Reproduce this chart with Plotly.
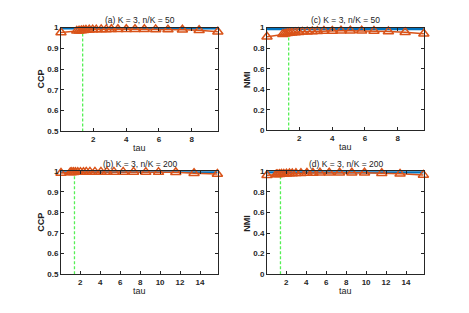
import plotly.graph_objects as go

# ---- data ----
tau_50 = [0.03, 0.99, 1.13, 1.27, 1.40, 1.55, 1.75, 1.96, 2.18, 2.48, 2.79,
          3.10, 3.50, 4.01, 4.54, 5.11, 5.80, 6.55, 7.43, 8.45, 9.59]
tau_200 = [0.07, 1.00, 1.15, 1.33, 1.52, 1.75, 2.02, 2.32, 2.60, 2.97, 3.47,
           4.07, 4.67, 5.37, 6.30, 7.34, 8.57, 9.84, 11.57, 13.40, 15.74]

ccp_50_blue = [0.997] * 21
ccp_50_orange = [0.976, 0.984, 0.985, 0.986, 0.987, 0.988, 0.989, 0.990, 0.990, 0.991, 0.991,
                 0.992, 0.992, 0.992, 0.992, 0.992, 0.991, 0.990, 0.989, 0.987, 0.980]
nmi_50_blue = [0.985] * 21
nmi_50_orange = [0.91, 0.935, 0.940, 0.944, 0.947, 0.950, 0.953, 0.955, 0.958, 0.960, 0.962,
                 0.964, 0.966, 0.967, 0.968, 0.968, 0.968, 0.966, 0.962, 0.955, 0.940]
ccp_200_blue = [0.998] * 21
ccp_200_orange = [0.992, 0.994, 0.995, 0.995, 0.996, 0.996, 0.996, 0.996, 0.997, 0.997, 0.997,
                  0.997, 0.997, 0.997, 0.997, 0.997, 0.996, 0.996, 0.995, 0.991, 0.987]
nmi_200_blue = [0.99] * 21
nmi_200_orange = [0.962, 0.968, 0.970, 0.972, 0.974, 0.975, 0.976, 0.978, 0.979, 0.980, 0.982,
                  0.983, 0.984, 0.985, 0.986, 0.986, 0.986, 0.985, 0.982, 0.975, 0.965]

tau_star_50 = 1.35
tau_star_200 = 1.42

titles = ["(a) K = 3, n/K = 50", "(c) K = 3, n/K = 50",
          "(b) K = 3, n/K = 200", "(d) K = 3, n/K = 200"]
ylabels = ["CCP", "NMI", "CCP", "NMI"]
x_ticks_50 = [2, 4, 6, 8]
x_ticks_200 = [2, 4, 6, 8, 10, 12, 14]
ccp_ticks = [0.5, 0.6, 0.7, 0.8, 0.9, 1]
nmi_ticks = [0, 0.2, 0.4, 0.6, 0.8, 1]

W, H = 469, 313
OFF = 8  # page body margin
BLUE = "#0072BD"
ORANGE = "#D95319"
GREEN = "#55F055"
AX = "#262626"
FONT = "Liberation Sans"


def px(v):
    return (v - OFF) / W


def py(v):
    return 1 - (v - OFF) / H


# panel boxes in pixels: (left, right, top, bottom)
boxes = [(61, 218, 24, 131), (267, 424, 24, 130), (61, 218, 172, 278), (267, 424, 172, 278)]
panels = [
    (tau_50, ccp_50_blue, ccp_50_orange, tau_star_50, [0.5, 1], ccp_ticks, x_ticks_50, [0.03, 9.6]),
    (tau_50, nmi_50_blue, nmi_50_orange, tau_star_50, [0, 1], nmi_ticks, x_ticks_50, [0.03, 9.6]),
    (tau_200, ccp_200_blue, ccp_200_orange, tau_star_200, [0.5, 1], ccp_ticks, x_ticks_200, [0.07, 15.8]),
    (tau_200, nmi_200_blue, nmi_200_orange, tau_star_200, [0, 1], nmi_ticks, x_ticks_200, [0.07, 15.8]),
]

fig = go.Figure()
layout = dict(width=W, height=H, margin=dict(l=0, r=0, t=0, b=0),
              paper_bgcolor="white", plot_bgcolor="white", showlegend=False,
              font=dict(family=FONT, color=AX))
annotations = []
for i, (box, p) in enumerate(zip(boxes, panels)):
    tau, blue, orange, tstar, yr, yt, xt, xr = p
    l, r, t, b = box
    n = i + 1
    xa = "x" if n == 1 else f"x{n}"
    ya = "y" if n == 1 else f"y{n}"
    xkey = "xaxis" if n == 1 else f"xaxis{n}"
    ykey = "yaxis" if n == 1 else f"yaxis{n}"
    layout[xkey] = dict(domain=[px(l), px(r)], anchor=ya, range=xr, tickvals=xt,
                        showline=True, mirror="allticks", linecolor=AX, linewidth=1,
                        ticks="inside", ticklen=3, tickcolor=AX, showgrid=False, zeroline=False,
                        tickfont=dict(size=8, family=FONT, color=AX, weight="bold"))
    layout[ykey] = dict(domain=[py(b), py(t)], anchor=xa, range=yr, tickvals=yt,
                        ticktext=[("%g" % v) for v in yt],
                        showline=True, mirror="allticks", linecolor=AX, linewidth=1,
                        ticks="inside", ticklen=3, tickcolor=AX, showgrid=False, zeroline=False,
                        tickfont=dict(size=8, family=FONT, color=AX, weight="bold"))
    fig.add_trace(go.Scatter(x=[tstar, tstar], y=yr, mode="lines", xaxis=xa, yaxis=ya,
                             line=dict(color=GREEN, width=1.3, dash="3px,2px")))
    fig.add_trace(go.Scatter(x=tau, y=blue, mode="lines", xaxis=xa, yaxis=ya,
                             line=dict(color=BLUE, width=2.5)))
    fig.add_trace(go.Scatter(x=tau, y=orange, mode="lines+markers", xaxis=xa, yaxis=ya,
                             cliponaxis=False,
                             line=dict(color=ORANGE, width=1.5),
                             marker=dict(symbol="triangle-up-open", size=9, color=ORANGE,
                                         line=dict(width=1.5, color=ORANGE))))
    cx = px((l + r) / 2)
    annotations.append(dict(text=titles[i], x=cx, y=py(t - 8), xref="paper", yref="paper",
                            showarrow=False, font=dict(size=8.5, family=FONT, color="#222"),
                            xanchor="center", yanchor="middle"))
    annotations.append(dict(text="tau", x=cx, y=py(b + 17.5), xref="paper", yref="paper",
                            showarrow=False, font=dict(size=9, family=FONT, color="#222"),
                            xanchor="center", yanchor="middle"))
    annotations.append(dict(text=ylabels[i], x=px(l - 20), y=py((t + b) / 2),
                            xref="paper", yref="paper", textangle=-90,
                            showarrow=False, font=dict(size=9, family=FONT, color="#222", weight="bold"),
                            xanchor="center", yanchor="middle"))
layout["annotations"] = annotations
fig.update_layout(**layout)
fig.write_html("out.html")
